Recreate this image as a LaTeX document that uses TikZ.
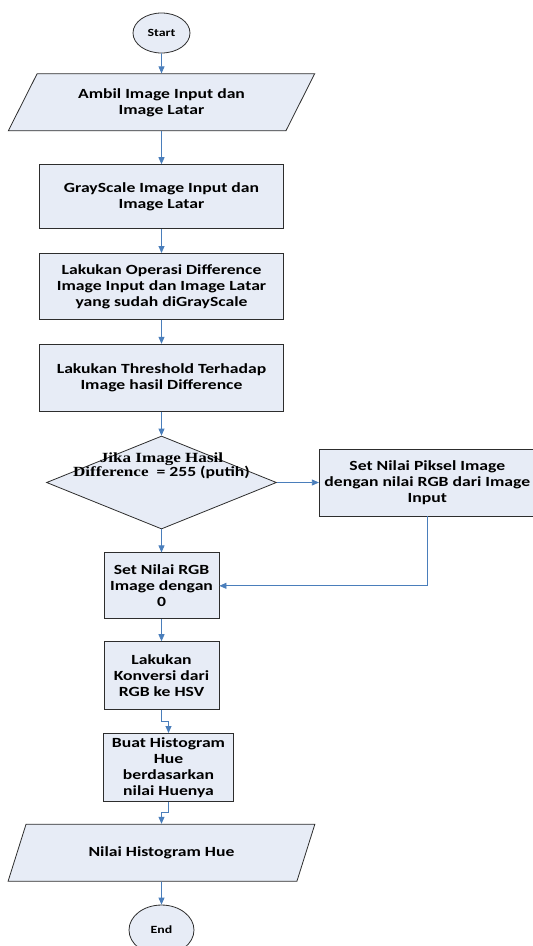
\documentclass[tikz,border=0pt]{standalone}
\usepackage{fontspec}
\setmainfont{Carlito}[FakeStretch=1.26]
\newfontfamily\timesfont{Liberation Serif}[FakeStretch=1.22]
\usetikzlibrary{arrows.meta, positioning, shapes.geometric}
\definecolor{boxfill}{RGB}{231, 236, 246}
\definecolor{linkblue}{RGB}{74, 126, 187}
\definecolor{edge}{RGB}{45, 45, 45}

\begin{document}
\begin{tikzpicture}[
  x=1pt, y=1pt,
  node distance=24pt,
  base/.style={draw=edge, fill=boxfill, line width=0.8pt, align=center,
               font=\bfseries\fontsize{14}{16}\selectfont, inner sep=2pt},
  term/.style={base, ellipse, font=\bfseries\fontsize{11}{12}\selectfont},
  io/.style={base, trapezium, trapezium left angle=58.5, trapezium right angle=121.5,
             trapezium stretches, minimum width=307pt, minimum height=57pt},
  proc/.style={base, rectangle, minimum width=244pt, minimum height=66pt},
  small/.style={base, rectangle, minimum width=115pt, minimum height=67pt},
  dec/.style={base, diamond, minimum width=230pt, minimum height=93pt},
  arr/.style={-{Triangle[length=7pt, width=6pt]}, linkblue, line width=0.8pt},
]
  \useasboundingbox (0,0) rectangle (533,-946);

  \node[term, minimum width=57pt, minimum height=40pt] (start) at (161.5,-33) {Start};
  \node[io, below=20pt of start] (in) {Ambil Image Input dan\\Image Latar};
  \node[proc, below=33pt of in, minimum height=64pt] (gray) {GrayScale Image Input dan\\Image Latar};
  \node[proc, below=of gray] (diff) {Lakukan Operasi Difference\\Image Input dan Image Latar\\yang sudah diGrayScale};
  \node[proc, below=of diff, minimum height=67pt] (thr) {Lakukan Threshold Terhadap\\Image hasil Difference};
  \node[dec, below=of thr] (cek) {};
  \node[font=\bfseries\fontsize{14}{12}\selectfont, align=center, inner sep=0pt]
    (cek-t) at ([yshift=17pt]cek.center)
    {{\timesfont Jika Image Hasil}\\{\timesfont Difference}\ \ = 255 (putih)};
  \node[base, rectangle, minimum width=216pt, minimum height=67pt, right=42pt of cek]
    (setpx) {Set Nilai Piksel Image\\dengan nilai RGB dari Image\\Input};
  \node[small, below=23pt of cek, minimum height=66pt] (nol) {Set Nilai RGB\\Image dengan\\0};
  \node[small, below=22pt of nol, minimum height=68pt] (konv) {Lakukan\\Konversi dari\\RGB ke HSV};
  \node[small, below=23pt of konv, xshift=7pt, minimum width=130pt, minimum height=68pt]
    (hist) {Buat Histogram\\Hue\\berdasarkan\\nilai Huenya};
  \node[io, below=22pt of hist, xshift=-7pt] (out) {Nilai Histogram Hue};
  \node[term, below=23pt of out, minimum width=65pt, minimum height=50pt] (stop) {End};

  \draw[arr] (start) -- (in);
  \draw[arr] (in) -- (gray);
  \draw[arr] (gray) -- (diff);
  \draw[arr] (diff) -- (thr);
  \draw[arr] (thr) -- (cek);
  \draw[arr] (cek) -- (setpx);
  \draw[arr] (cek) -- (nol);
  \draw[arr] (setpx.south) |- (nol.east);
  \draw[arr] (nol) -- (konv);
  \draw[arr] (konv.south) -- ++(0,-11) -| (hist.north);
  \draw[arr] (hist.south) -- ++(0,-11) -| (out.north);
  \draw[arr] (out) -- (stop);
\end{tikzpicture}
\end{document}
